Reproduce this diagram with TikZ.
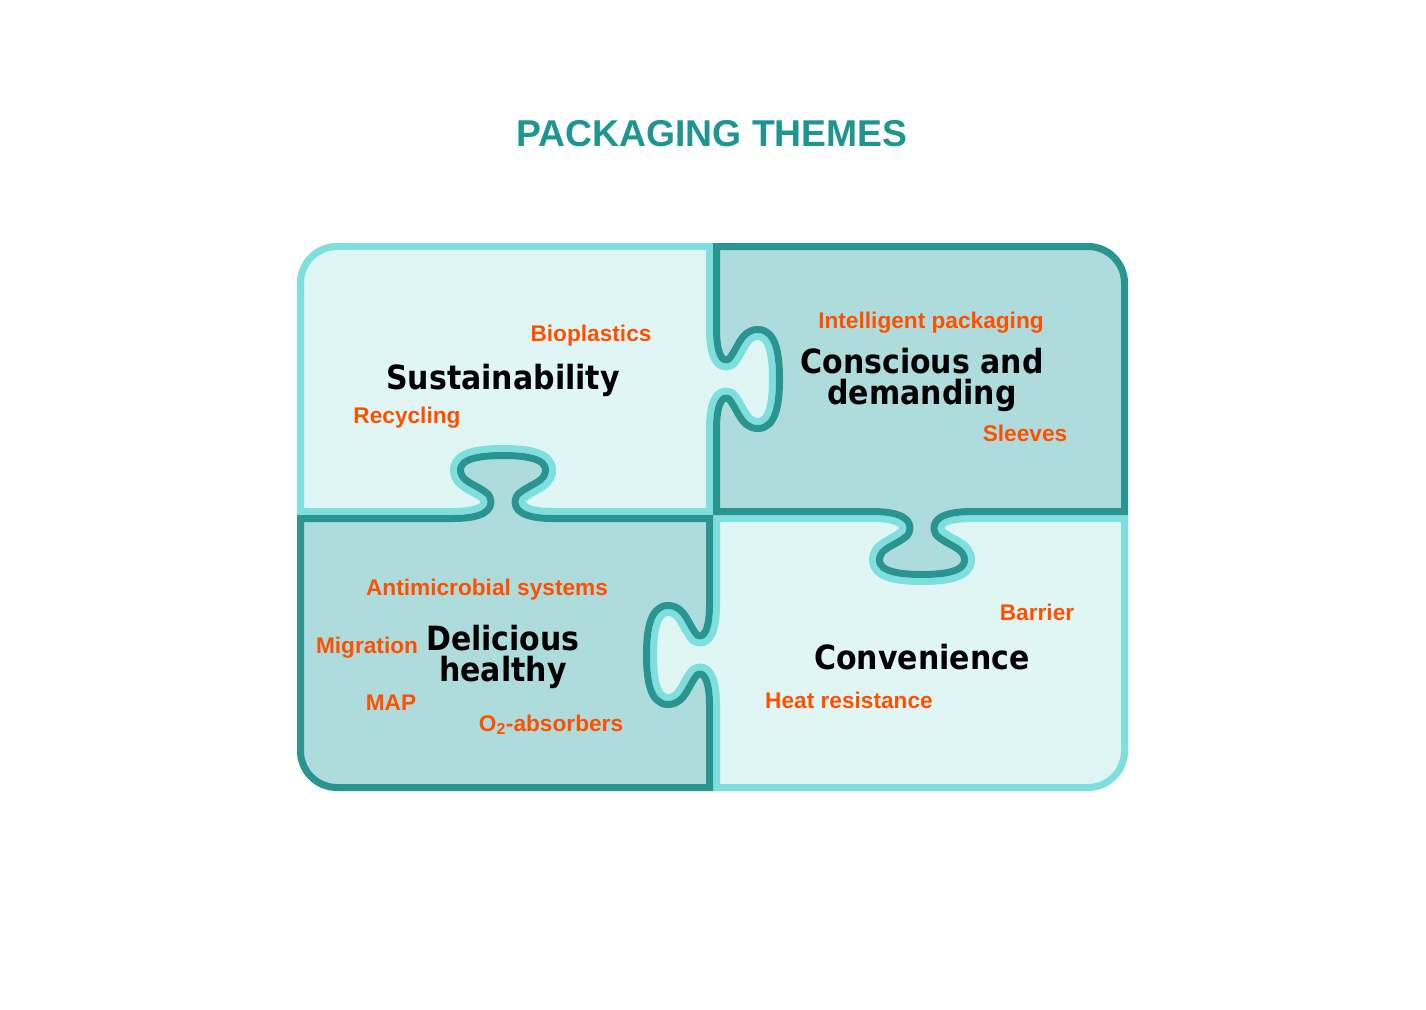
\documentclass[tikz,border=0pt]{standalone}
\usepackage{fontspec}
\setmainfont{Liberation Sans}
\newfontfamily\condfont{DejaVu Sans Condensed}
\definecolor{lfill}{HTML}{E0F6F5}
\definecolor{lstroke}{HTML}{7FDEDE}
\definecolor{dfill}{HTML}{AEDCDC}
\definecolor{dstroke}{HTML}{2A9490}
\definecolor{ttl}{HTML}{1E9590}
\definecolor{org}{HTML}{FF5000}
\def\KUlr{(453,515) .. controls (480,515) and (492,508) .. (486,497) .. controls (475,487) and (457,485) .. (457,470) .. controls (457,455) and (480,452) .. (503,452) .. controls (526,452) and (549,455) .. (549,470) .. controls (549,485) and (531,487) .. (520,497) .. controls (514,508) and (526,515) .. (553,515)}
\def\KUrl{(553,515) .. controls (526,515) and (514,508) .. (520,497) .. controls (531,487) and (549,485) .. (549,470) .. controls (549,455) and (526,452) .. (503,452) .. controls (480,452) and (457,455) .. (457,470) .. controls (457,485) and (475,487) .. (486,497) .. controls (492,508) and (480,515) .. (453,515)}
\def\KDlr{(872,515) .. controls (899,515) and (911,522) .. (905,533) .. controls (894,543) and (876,545) .. (876,560) .. controls (876,575) and (899,578) .. (922,578) .. controls (945,578) and (968,575) .. (968,560) .. controls (968,545) and (950,543) .. (939,533) .. controls (933,522) and (945,515) .. (972,515)}
\def\KDrl{(972,515) .. controls (945,515) and (933,522) .. (939,533) .. controls (950,543) and (968,545) .. (968,560) .. controls (968,575) and (945,578) .. (922,578) .. controls (899,578) and (876,575) .. (876,560) .. controls (876,545) and (894,543) .. (905,533) .. controls (911,522) and (899,515) .. (872,515)}
\def\KRtb{(713,329) .. controls (713,356) and (720,368) .. (731,362) .. controls (741,351) and (743,333) .. (758,333) .. controls (773,333) and (776,356) .. (776,379) .. controls (776,402) and (773,425) .. (758,425) .. controls (743,425) and (741,407) .. (731,396) .. controls (720,390) and (713,402) .. (713,429)}
\def\KRbt{(713,429) .. controls (713,402) and (720,390) .. (731,396) .. controls (741,407) and (743,425) .. (758,425) .. controls (773,425) and (776,402) .. (776,379) .. controls (776,356) and (773,333) .. (758,333) .. controls (743,333) and (741,351) .. (731,362) .. controls (720,368) and (713,356) .. (713,329)}
\def\KLtb{(713,605) .. controls (713,632) and (706,644) .. (695,638) .. controls (685,627) and (683,609) .. (668,609) .. controls (653,609) and (650,632) .. (650,655) .. controls (650,678) and (653,701) .. (668,701) .. controls (683,701) and (685,683) .. (695,672) .. controls (706,666) and (713,678) .. (713,705)}
\def\KLbt{(713,705) .. controls (713,678) and (706,666) .. (695,672) .. controls (685,683) and (683,701) .. (668,701) .. controls (653,701) and (650,678) .. (650,655) .. controls (650,632) and (653,609) .. (668,609) .. controls (683,609) and (685,627) .. (695,638) .. controls (706,644) and (713,632) .. (713,605)}
\def\PTL{(297,515) -- (297,283) .. controls (297,261) and (315,243) .. (337,243) -- (713,243) -- \KRtb -- (713,515) -- \KUrl -- cycle}
\def\PTR{(713,243) -- (1088,243) .. controls (1110,243) and (1128,261) .. (1128,283) -- (1128,515) -- \KDrl -- (713,515) -- \KRbt -- cycle}
\def\PBL{(297,515) -- \KUlr -- (713,515) -- \KLtb -- (713,791) -- (337,791) .. controls (315,791) and (297,773) .. (297,751) -- cycle}
\def\PBR{(713,515) -- \KDlr -- (1128,515) -- (1128,751) .. controls (1128,773) and (1110,791) .. (1088,791) -- (713,791) -- \KLbt -- cycle}
\tikzset{
  lab/.style={text=org,font=\bfseries\fontsize{17}{20}\selectfont},
  theme/.style={text=black,font=\condfont\bfseries\fontsize{25}{23}\selectfont,align=center},
}
\newcommand\piece[3]{\begin{scope}\clip #1; \fill[#2] #1; \draw[#3,line width=10.5pt,line join=round] #1;\end{scope}}
\begin{document}
\begin{tikzpicture}[x=0.75pt,y=-0.75pt]
\useasboundingbox[fill=white] (0,0) rectangle (1426,1009);
\piece{\PTL}{lfill}{lstroke}
\piece{\PBR}{lfill}{lstroke}
\piece{\PTR}{dfill}{dstroke}
\piece{\PBL}{dfill}{dstroke}
\node[text=ttl,font=\bfseries\fontsize{28}{32}\selectfont] (title) at (712,134) {PACKAGING THEMES};
\node[theme] (sus) at (503,380) {Sustainability};
\node[theme] (con) at (922,380) {Conscious and\\demanding};
\node[theme] (del) at (503,657) {Delicious\\healthy};
\node[theme] (conv) at (922,657) {Convenience};
\node[lab] (bio) at (591,336) {Bioplastics};
\node[lab] (rec) at (407,418) {Recycling};
\node[lab] (int) at (931,323) {Intelligent packaging};
\node[lab] (sle) at (1025,433) {Sleeves};
\node[lab] (ant) at (487,590) {Antimicrobial systems};
\node[lab] (mig) at (367,648) {Migration};
\node[lab] (map) at (391,703) {MAP};
\node[lab] (o2) at (551,725) {O\textsubscript{2}-absorbers};
\node[lab] (bar) at (1037,612) {Barrier};
\node[lab] (heat) at (849,700) {Heat resistance};
\end{tikzpicture}
\end{document}
